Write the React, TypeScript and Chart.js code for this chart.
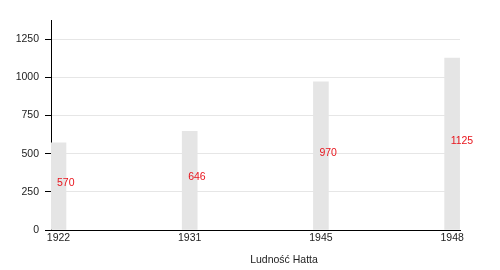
import React, { useEffect, useRef } from "react";
import { Chart, registerables } from "chart.js";

Chart.register(...registerables);

const years = ["1922", "1931", "1945", "1948"];
const population = [570, 646, 970, 1125];
const yTicks = [0, 250, 500, 750, 1000, 1250];
const xTitle = "Ludność Hatta";

const FONT = "'Liberation Sans', Arial, sans-serif";

export default function App() {
  const ref = useRef<HTMLCanvasElement | null>(null);

  useEffect(() => {
    const canvas = ref.current;
    if (!canvas) return;

    const labelPlugin = {
      id: "valueLabels",
      afterDatasetsDraw(chart: any) {
        const ctx = chart.ctx;
        const meta = chart.getDatasetMeta(0);
        ctx.save();
        ctx.font = `10.5px ${FONT}`;
        ctx.fillStyle = "#e8141c";
        ctx.textAlign = "left";
        ctx.textBaseline = "middle";
        meta.data.forEach((bar: any, i: number) => {
          const y = (bar.y + bar.base) / 2 - 3;
          ctx.fillText(String(population[i]), bar.x - 1.5, y);
        });
        ctx.restore();
      },
      afterDraw(chart: any) {
        const ctx = chart.ctx;
        ctx.save();
        ctx.font = `10.5px ${FONT}`;
        ctx.fillStyle = "#222";
        ctx.textAlign = "center";
        ctx.textBaseline = "middle";
        ctx.fillText(xTitle, 284, 260);
        ctx.restore();
      },
    };

    const chart = new Chart(canvas, {
      type: "bar",
      data: {
        datasets: [
          {
            data: population.map((v, i) => ({ x: i, y: v })),
            backgroundColor: "#e5e5e5",
            borderWidth: 0,
            barThickness: 15,
          },
        ],
      },
      options: {
        animation: false,
        responsive: false,
        devicePixelRatio: 1,
        layout: { padding: { top: 20, right: 40, left: 0, bottom: 0 } },
        plugins: {
          legend: { display: false },
          tooltip: { enabled: false },
        },
        scales: {
          x: {
            type: "linear",
            min: -0.057,
            max: 3.06,
            offset: false,
            afterBuildTicks(scale: any) {
              scale.ticks = years.map((_, i) => ({ value: i }));
            },
            afterFit(scale: any) {
              scale.height = 40;
            },
            grid: { display: false, drawTicks: false },
            border: { display: true, color: "#000", width: 1 },
            ticks: {
              callback: (v: any) => years[Math.round(Number(v))] ?? "",
              font: { size: 10.5, family: FONT },
              color: "#222",
              padding: 2,
              maxRotation: 0,
              autoSkip: false,
            },
          },
          y: {
            min: 0,
            max: 1375,
            afterBuildTicks(scale: any) {
              scale.ticks = yTicks.map((v) => ({ value: v }));
            },
            afterFit(scale: any) {
              scale.width = 51;
            },
            grid: {
              color: "#e6e6e6",
              tickColor: "#000",
              tickLength: 6,
            },
            border: { display: true, color: "#000", width: 1 },
            ticks: {
              callback: (v: any) => String(v),
              font: { size: 10.5, family: FONT },
              color: "#222",
              padding: 6,
            },
          },
        },
      },
      plugins: [labelPlugin],
    });

    return () => chart.destroy();
  }, []);

  return (
    <div style={{ position: "fixed", left: 0, top: 0, width: 500, height: 270, background: "#fff" }}>
      <canvas ref={ref} width={500} height={270} style={{ width: 500, height: 270 }} />
    </div>
  );
}
